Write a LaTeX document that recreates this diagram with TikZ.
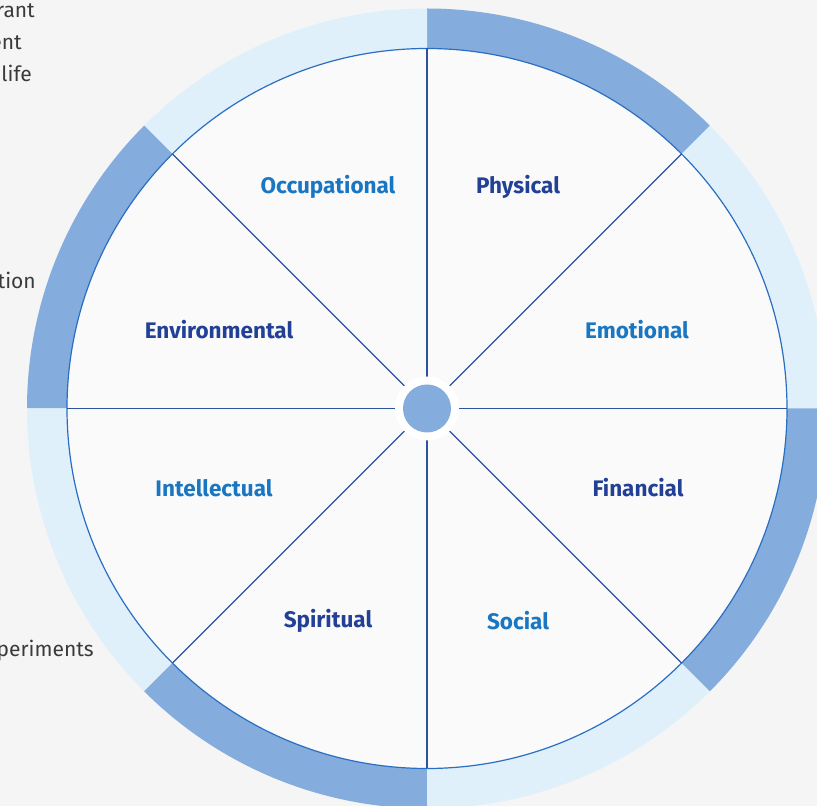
\documentclass[tikz,border=0pt]{standalone}
\usepackage{fontspec}
\setmainfont{Fira Sans}
\usetikzlibrary{calc}
\definecolor{pagebg}{HTML}{F5F5F5}
\definecolor{discbg}{HTML}{FAFAFA}
\definecolor{ringdark}{HTML}{84ADDE}
\definecolor{ringlight}{HTML}{E0F0FA}
\definecolor{rimblue}{HTML}{2A6EC3}
\definecolor{spokeblue}{HTML}{2C52A0}
\definecolor{labdark}{HTML}{214096}
\definecolor{lablight}{HTML}{1976C2}
\definecolor{bodygray}{HTML}{3A3A3A}

\begin{document}
\begin{tikzpicture}[
        x=1pt, y=1pt,
        darklabel/.style={font=\bfseries\fontsize{22.5}{27}\selectfont, text=labdark, inner sep=0pt},
        lightlabel/.style={font=\bfseries\fontsize{22.5}{27}\selectfont, text=lablight, inner sep=0pt},
        bodytext/.style={font=\fontsize{21}{25}\selectfont, text=bodygray, anchor=base east, inner sep=0pt},
        spoke/.style={draw=spokeblue, line width=1.3pt}
    ]

        \useasboundingbox (0,0) rectangle (817,806);
        \fill[pagebg] (0,0) rectangle (817,806);
        \clip (0,0) rectangle (817,806);

        % ================= TEXTO LATERAL =================
        \node[bodytext] (t1) at (35,788) {rant};
        \node[bodytext] (t2) at (22,756) {ent};
        \node[bodytext] (t3) at (32,724) {life};
        \node[bodytext] (t4) at (36,517) {tion};
        \node[bodytext] (t5) at (94,149) {periments};

        % ================= ANILLO =================
        \coordinate (hub) at (427,397.5);
        \foreach \a [count=\i] in {0,45,...,315} {
            \pgfmathsetmacro{\b}{\a+45}
            \ifodd\i \def\segcol{ringlight}\else \def\segcol{ringdark}\fi
            \fill[\segcol] ($(hub)+(\a:400pt)$) arc[start angle=\a, end angle=\b, radius=400pt]
                -- ($(hub)+(\b:360pt)$) arc[start angle=\b, end angle=\a, radius=360pt] -- cycle;
        }

        % ================= RUEDA =================
        \fill[discbg] (hub) circle[radius=360pt];
        \draw[rimblue, line width=1.2pt] (hub) circle[radius=360pt];
        \foreach \a in {0,45,...,315}
            \path[spoke] (hub) -- ($(hub)+(\a:360pt)$);

        \fill[white] (hub) circle[radius=32pt];
        \fill[ringdark] (hub) circle[radius=24pt];

        % ================= ETIQUETAS =================
        \node[lightlabel] (occ) at (328,619) {Occupational};
        \node[darklabel] (phy) at (518,619) {Physical};
        \node[lightlabel] (emo) at (637,476) {Emotional};
        \node[darklabel] (fin) at (638,318) {Financial};
        \node[lightlabel] (soc) at (518,185) {Social};
        \node[darklabel] (spi) at (328,185) {Spiritual};
        \node[lightlabel] (int) at (214,318) {Intellectual};
        \node[darklabel] (env) at (219,476) {Environmental};

    \end{tikzpicture}
\end{document}
